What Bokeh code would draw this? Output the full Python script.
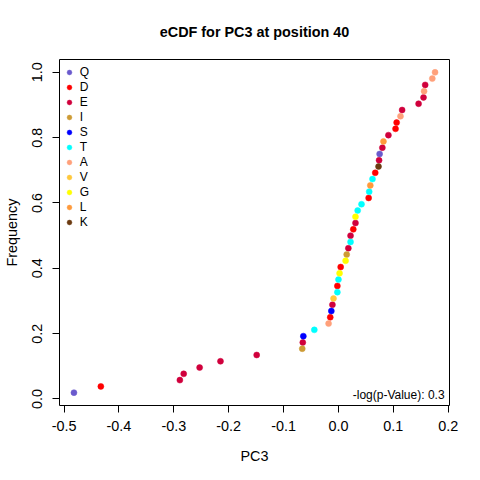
import math
import numpy as np
from bokeh.plotting import figure
from bokeh.models import Range1d, FixedTicker, NumeralTickFormatter, Legend, LegendItem, Label, ColumnDataSource
from bokeh.embed import file_html
from bokeh.resources import INLINE

# data: amino acid and PC3 value, in eCDF (sorted) order
residues = ["Q", "D", "E", "E", "E", "E", "E", "I", "E", "S",
            "T", "A", "D", "S", "E", "V", "T", "D", "T", "G",
            "D", "G", "I", "E", "T", "E", "D", "E", "G", "T",
            "T", "D", "T", "L", "T", "D", "K", "E", "Q", "E",
            "L", "E", "D", "D", "A", "E", "E", "E", "A", "E",
            "A", "A"]
pc3 = [-0.482, -0.433, -0.289, -0.282, -0.253, -0.215, -0.149, -0.066, -0.065, -0.064,
       -0.044, -0.018, -0.015, -0.013, -0.011, -0.009, -0.002, -0.002, 0.000, 0.002,
       0.004, 0.013, 0.015, 0.018, 0.022, 0.022, 0.027, 0.031, 0.031, 0.035,
       0.042, 0.055, 0.056, 0.058, 0.062, 0.067, 0.073, 0.074, 0.075, 0.080,
       0.082, 0.091, 0.104, 0.106, 0.113, 0.116, 0.146, 0.155, 0.156, 0.158,
       0.171, 0.176]

legend_order = ["Q", "D", "E", "I", "S", "T", "A", "V", "G", "L", "K"]
colors = ["#6A5ACD", "#FF0000", "#D0003C", "#CD9B35", "#0000FF", "#00FFFF",
          "#FFA07A", "#FFC83C", "#FFFF00", "#FF9A3C", "#6B3A10"]
x_ticks = [-0.5, -0.4, -0.3, -0.2, -0.1, 0.0, 0.1, 0.2]
y_ticks = [0.0, 0.2, 0.4, 0.6, 0.8, 1.0]
pvalue_text = "-log(p-Value): 0.3"

x = np.array(pc3)
n = len(x)
freq = np.arange(1, n + 1) / n  # empirical CDF

xspan = x.max() - x.min()
yspan = freq.max() - freq.min()

FONT = "Liberation Sans"

p = figure(width=464, height=464, frame_width=390, frame_height=346,
           output_backend="svg", toolbar_location=None,
           x_range=Range1d(x.min() - 0.04 * xspan, x.max() + 0.04 * xspan),
           y_range=Range1d(freq.min() - 0.04 * yspan, freq.max() + 0.04 * yspan),
           min_border_left=59, min_border_top=59, min_border_right=10, min_border_bottom=10,
           title="eCDF for PC3 at position 40")

p.title.text_font = FONT
p.title.text_font_size = "14.4px"
p.title.text_font_style = "bold"
p.title.align = "center"
p.title.text_color = "black"
p.title.standoff = 40

p.grid.visible = False
p.outline_line_color = "black"
p.outline_line_width = 1
p.background_fill_color = "white"
p.border_fill_color = "white"

for ax in (p.xaxis[0], p.yaxis[0]):
    ax.axis_line_color = None
    ax.major_tick_line_color = "black"
    ax.major_tick_in = 0
    ax.major_tick_out = 7
    ax.minor_tick_line_color = None
    ax.major_label_text_font = FONT
    ax.major_label_text_font_size = "14.4px"
    ax.major_label_text_color = "black"
    ax.axis_label_text_font = FONT
    ax.axis_label_text_font_size = "14.4px"
    ax.axis_label_text_font_style = "normal"
    ax.axis_label_text_color = "black"
    ax.formatter = NumeralTickFormatter(format="0.0")

p.xaxis[0].ticker = FixedTicker(ticks=x_ticks)
p.yaxis[0].ticker = FixedTicker(ticks=y_ticks)
p.xaxis[0].axis_label = "PC3"
p.yaxis[0].axis_label = "Frequency"
p.yaxis[0].major_label_orientation = "parallel"
p.xaxis[0].major_label_standoff = 8
p.yaxis[0].major_label_standoff = 10
p.xaxis[0].axis_label_standoff = 14
p.yaxis[0].axis_label_standoff = 10

items = []
for aa, col in zip(legend_order, colors):
    xs = [v for v, r in zip(pc3, residues) if r == aa]
    ys = [f for f, r in zip(freq, residues) if r == aa]
    src = ColumnDataSource(dict(x=xs, y=ys))
    r = p.scatter("x", "y", source=src, size=6, fill_color=col, line_color=col, line_width=0.5)
    items.append(LegendItem(label=aa, renderers=[r]))

legend = Legend(items=items, location=(3.7, 176.5), padding=0, margin=0, spacing=1,
                glyph_width=12, glyph_height=14, label_height=14, label_standoff=5,
                label_text_font=FONT, label_text_font_size="12px", label_text_color="black",
                background_fill_alpha=0, border_line_color=None)
p.add_layout(legend, "center")

p.add_layout(Label(x=x.max() + 0.04 * xspan - 0.009, y=freq.min() - 0.04 * yspan + 0.033,
                   text=pvalue_text, text_align="right", text_baseline="middle",
                   text_font=FONT, text_font_size="12px", text_color="black"))

open("out.html", "w").write(file_html(p, INLINE))
